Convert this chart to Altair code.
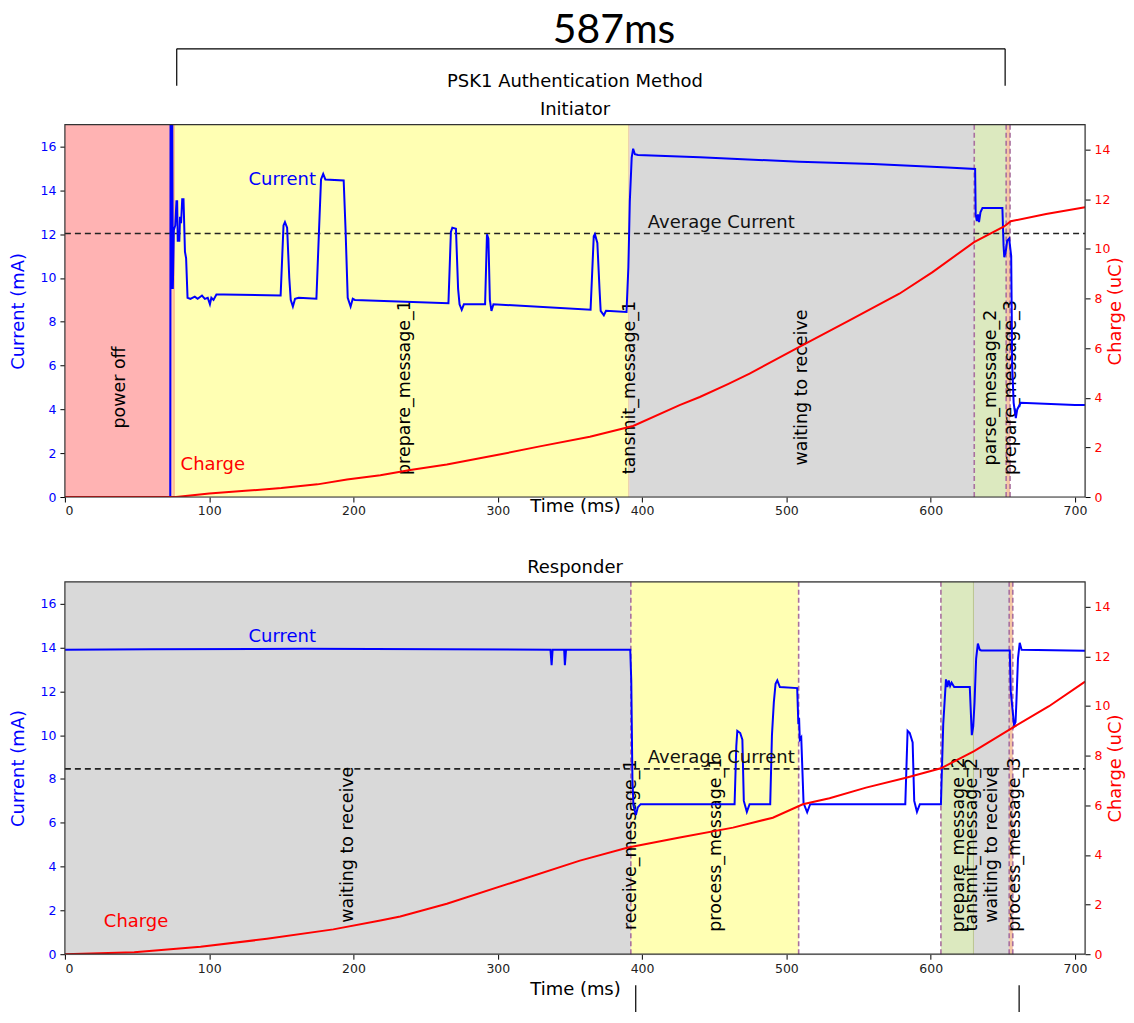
import altair as alt
import pandas as pd

# ---------------- data ----------------
XMAX = 707

# Initiator current (ms, mA)
init_t = [0, 73.0, 73.2, 73.5, 73.8, 74.1, 74.4, 74.8, 75.5, 76.5, 77.3, 77.8, 78.2, 79.3, 79.8, 80.5,
          81.3, 82.2, 83.2, 84.0, 85.0, 87, 90, 92, 95, 97, 99, 100.5, 101.5, 103, 105, 110, 149.5,
          151.5, 152.5, 154, 155.5, 156.5, 158, 159.5, 162, 174.3, 176.0, 177.5, 179, 180.5, 193.2,
          194.5, 196.0, 198.0, 199.5, 201, 265.8, 267.5, 268.5, 271.0, 272.5, 273.5, 275, 276.5,
          291.2, 292.5, 293.5, 294.5, 295.6, 297, 364.3, 366.5, 367.3, 369, 370.5, 371.3, 373.5,
          375, 389.2, 390.5, 391.5, 392.8, 393.8, 395, 397.2, 440, 509, 560, 611.7, 630.8, 631.2,
          632, 632.8, 633.5, 634.5, 635.9, 649.7, 650.5, 651.0, 652, 653, 654.4, 655.8, 656.5,
          657.5, 659.0, 660, 662.4, 700, 707]
init_i = [0, 0, 17.5, 9.5, 17.5, 9.5, 17.5, 9.5, 12.2, 12.4, 13.5, 13.5, 11.7, 11.7, 12.8, 12.5,
          13.6, 13.6, 11.2, 10.9, 9.1, 9.05, 9.15, 9.05, 9.2, 9.05, 9.1, 8.8, 9.1, 9.0, 9.25, 9.25, 9.2,
          12.4, 12.55, 12.3, 10.0, 9.0, 8.7, 9.05, 9.1, 9.05, 12.0, 14.5, 14.75, 14.5, 14.45,
          12.2, 9.1, 8.7, 9.05, 9.0, 8.85, 12.1, 12.3, 12.25, 9.5, 8.8, 8.55, 8.8,
          8.8, 12.0, 11.8, 9.0, 8.5, 8.8, 8.55, 11.9, 12.0, 11.6, 9.5, 8.5, 8.3,
          8.5, 8.45, 10.5, 13.5, 15.5, 15.9, 15.65, 15.62, 15.51, 15.31, 15.2, 15.05, 14.98, 12.9,
          12.6, 12.9, 12.55, 13.0, 13.2, 13.2, 11.5, 10.95, 11.2, 11.7, 11.8, 11.0, 6.0,
          4.3, 3.6, 4.0, 4.3, 4.2, 4.2]

# Initiator charge (ms, uC)
init_q_t = [0, 77, 100, 125, 150, 175, 195.5, 218.6, 239.3, 264.7, 299.3, 330, 363.8, 393.8, 426,
            440, 459.5, 474.5, 509, 543.7, 578.3, 601.3, 630.1, 650.9, 655.5, 680, 707]
init_q = [0, 0, 0.14, 0.25, 0.36, 0.51, 0.71, 0.88, 1.09, 1.31, 1.69, 2.05, 2.43, 2.86, 3.7,
          4.03, 4.55, 4.97, 6.05, 7.12, 8.19, 9.06, 10.27, 10.9, 11.11, 11.4, 11.67]

# Responder current (ms, mA)
resp_t = [0, 60, 166, 336.5, 337.3, 338, 346, 346.5, 347.3, 391.8, 392.5, 393.3, 394, 395.7, 397,
          399, 464.1, 465.3, 466, 468, 469.5, 470.5, 472.6, 474.5, 488.8, 490, 491.3, 492.5, 493.7,
          495.5, 507.5, 508.3, 508.8, 509.3, 510.3, 511.9, 514.4, 516.5, 582.4, 584, 585.5, 587.5,
          588.6, 590.5, 592.5, 607.1, 608.7, 610.6, 611.6, 612.5, 613.5, 614.5, 616.3, 627.1,
          628.5, 629.5, 630.4, 631.5, 632.7, 634, 635, 654.8, 655.5, 657.8, 658.8, 659.4, 660.5,
          661.7, 663, 707]
resp_i = [13.9, 13.92, 13.95, 13.9, 13.2, 13.9, 13.9, 13.2, 13.9, 13.9, 12.5, 8.0, 6.8, 6.35, 6.7,
          6.85, 6.85, 9.5, 10.2, 10.1, 9.8, 7.0, 6.5, 6.85, 6.85, 10.0, 11.5, 12.35, 12.5,
          12.2, 12.15, 10.5, 10.8, 9.8, 9.9, 6.9, 6.48, 6.85, 6.85, 10.2, 10.1, 9.67,
          7.0, 6.5, 6.85, 6.85, 10.5, 12.55, 12.2, 12.5, 12.25, 12.4, 12.2, 12.2,
          10.0, 10.4, 11.5, 13.5, 14.18, 13.9, 13.87, 13.87, 12.0, 10.45, 10.6, 11.5, 13.5,
          14.22, 13.9, 13.85]

# Responder charge (ms, uC)
resp_q_t = [0, 48, 94, 140, 186, 218.6, 232.4, 264.7, 310.8, 356.9, 390.3, 426.1, 463, 490.6,
            511.4, 529.9, 555.2, 582.9, 607.1, 630.1, 656.6, 682, 707]
resp_q = [0, 0.08, 0.3, 0.62, 1.0, 1.36, 1.52, 2.03, 2.9, 3.77, 4.3, 4.7, 5.1, 5.5,
          6.04, 6.28, 6.71, 7.11, 7.49, 8.18, 9.12, 9.99, 10.98]

# Phases (ms)
init_reg_start = [0, 74.5, 76.5, 390.5, 391.3, 630.2, 652.3]
init_reg_end = [74.5, 76.5, 390.5, 391.3, 630.2, 652.3, 655.0]
init_reg_kind = ["off", "boot", "prepare", "transmit", "wait", "parse", "short"]
init_dash = [630.2, 652.3, 655.0]
init_lab_x = [38.5, 236, 391.5, 510.5, 641.5, 655.5]
init_lab_txt = ["power off", "prepare_message_1", "tansmit_message_1", "waiting to receive",
                "parse_message_2", "prepare_message_3"]

resp_reg_start = [0, 392.2, 607.1, 629.2, 630.0, 654.4]
resp_reg_end = [392.2, 508.5, 629.2, 630.0, 654.4, 656.9]
resp_reg_kind = ["wait", "prepare", "parse", "olive", "wait", "short"]
resp_dash = [392.2, 508.5, 607.1, 654.4, 656.9]
resp_lab_x = [196, 392.6, 451, 619.5, 628.8, 642.4, 658.5]
resp_lab_txt = ["waiting to receive", "receive_message_1", "process_message_1", "prepare_message_2",
                "tansmit_message_2", "waiting to receive", "process_message_3"]

init_avg = 12.03
resp_avg = 8.46

# annotation values
total_label = "587ms"
init_bracket = [77.5, 651.6]
resp_bracket = [395.6, 661.3]

# ---------------- style ----------------
W, H = 1022, 373
FONT = "DejaVu Sans"
kinds = ["off", "boot", "prepare", "transmit", "wait", "parse", "short", "olive"]
kind_colors = ["#ffb3b3", "#ffc58f", "#ffffb3", "#e3b98f", "#d9d9d9", "#dce9bf", "#f5c6a5", "#b9c48d"]

x_scale = alt.Scale(domain=[0, XMAX], nice=False, zero=False)
yI = alt.Scale(domain=[0, 17], nice=False, zero=False)
yQ = alt.Scale(domain=[0, 15], nice=False, zero=False)


def make_x_axis(title_y=None):
    kw = dict(title="Time (ms)", values=list(range(0, 701, 100)), grid=False, domain=False,
              tickSize=5, tickColor="black", labelPadding=3, labelFontSize=12.5, labelFont=FONT,
              labelColor="#222", titleFont=FONT, titleFontSize=18, titleFontWeight="normal",
              titleColor="black", titlePadding=6)
    if title_y is not None:
        kw["titleY"] = title_y
        kw["titleBaseline"] = "middle"
    return alt.Axis(**kw)


left_axis = alt.Axis(orient="left", title="Current (mA)", values=list(range(0, 17, 2)), grid=False,
                     domain=False, tickSize=5, tickColor="black", labelPadding=4, labelFontSize=12.5,
                     labelFont=FONT, labelColor="blue", titleFont=FONT, titleFontSize=18,
                     titleFontWeight="normal", titleColor="blue", titlePadding=13)
right_axis = alt.Axis(orient="right", title="Charge (uC)", values=list(range(0, 15, 2)), grid=False,
                      domain=False, tickSize=5, tickColor="black", labelPadding=4, labelFontSize=12.5,
                      labelFont=FONT, labelColor="red", titleFont=FONT, titleFontSize=18,
                      titleFontWeight="normal", titleColor="red", titlePadding=-3, titleAngle=270,
                      titleBaseline="top")

one = pd.DataFrame({"a": [0]})


def panel(cur_t, cur_i, q_t, q, rs, re_, rk, dash_x, lab_x, lab_txt, avg, avg_lab_x,
          cur_lab_x, chg_lab_x, xaxis, extras):
    X = lambda f: alt.X(f, scale=x_scale, axis=xaxis)
    YI = lambda f: alt.Y(f, scale=yI, axis=left_axis)

    regions = alt.Chart(pd.DataFrame({"s": rs, "e": re_, "k": rk})).mark_rect().encode(
        x=X("s:Q"), x2="e:Q", y=alt.value(0), y2=alt.value(H),
        color=alt.Color("k:N", scale=alt.Scale(domain=kinds, range=kind_colors), legend=None))
    dashes = alt.Chart(pd.DataFrame({"x": dash_x})).mark_rule(
        strokeDash=[5, 3], strokeWidth=1.6, color="#a9709f").encode(
        x=X("x:Q"), y=alt.value(0), y2=alt.value(H))

    avg_rule = alt.Chart(pd.DataFrame({"a": [avg]})).mark_rule(
        strokeDash=[6, 4], strokeWidth=1.6, color="#222").encode(
        y=YI("a:Q"), x=alt.value(0), x2=alt.value(W))
    labels = alt.Chart(pd.DataFrame({"x": lab_x, "y": [5] * len(lab_x), "t": lab_txt})).mark_text(
        angle=270, fontSize=17.5, font=FONT, color="black", align="center", baseline="middle").encode(
        x=X("x:Q"), y=YI("y:Q"), text="t:N")
    current = alt.Chart(pd.DataFrame({"t": cur_t, "i": cur_i})).mark_line(
        color="blue", strokeWidth=2, clip=True).encode(x=X("t:Q"), y=YI("i:Q"))

    def label(x, y, txt, color):
        return alt.Chart(pd.DataFrame({"x": [x], "y": [y], "t": [txt]})).mark_text(
            fontSize=18, font=FONT, align="left", baseline="middle", color=color).encode(
            x=X("x:Q"), y=YI("y:Q"), text="t:N")

    cur_layer = alt.layer(avg_rule, labels, current,
                          label(cur_lab_x, 14.46, "Current", "blue"),
                          label(chg_lab_x, 1.46, "Charge", "red"),
                          label(avg_lab_x, avg + 0.5, "Average Current", "#111"))

    charge = alt.Chart(pd.DataFrame({"t": q_t, "q": q})).mark_line(
        color="red", strokeWidth=2, clip=True).encode(
        x=X("t:Q"), y=alt.Y("q:Q", scale=yQ, axis=right_axis))
    chg_layer = alt.layer(charge)

    frame = alt.Chart(one).mark_rect(filled=False, stroke="#333", strokeWidth=1.2).encode(
        x=alt.value(0), x2=alt.value(W), y=alt.value(0), y2=alt.value(H))

    ex = [e(X) for e in extras]
    return alt.layer(regions, dashes, cur_layer, chg_layer, frame, *ex).resolve_scale(
        y="independent").properties(width=W, height=H)


# top annotations (functions receive the panel's x-encoding builder)
top_extras = [
    lambda X: alt.Chart(pd.DataFrame({"x": [(init_bracket[0] + init_bracket[1]) / 2 + 16],
                                      "t": [total_label]}))
    .mark_text(font="Lato", fontSize=41, align="center", baseline="alphabetic", color="black")
    .encode(x=X("x:Q"), y=alt.value(-82), text="t:N"),
    lambda X: alt.Chart(pd.DataFrame({"a": [init_bracket[0]], "b": [init_bracket[1]]}))
    .mark_rule(color="black", strokeWidth=1.2)
    .encode(x=X("a:Q"), x2="b:Q", y=alt.value(-76)),
    lambda X: alt.Chart(pd.DataFrame({"a": init_bracket}))
    .mark_rule(color="black", strokeWidth=1.2)
    .encode(x=X("a:Q"), y=alt.value(-76), y2=alt.value(-39)),
    lambda X: alt.Chart(one).mark_text(text="PSK1 Authentication Method", font=FONT, fontSize=18,
                                       align="center", baseline="middle", color="black")
    .encode(x=alt.value(W / 2), y=alt.value(-43)),
    lambda X: alt.Chart(one).mark_text(text="Initiator", font=FONT, fontSize=18,
                                       align="center", baseline="middle", color="black")
    .encode(x=alt.value(W / 2), y=alt.value(-15)),
]

bot_extras = [
    lambda X: alt.Chart(one).mark_text(text="Responder", font=FONT, fontSize=18,
                                       align="center", baseline="middle", color="black")
    .encode(x=alt.value(W / 2), y=alt.value(-14)),
    lambda X: alt.Chart(pd.DataFrame({"a": resp_bracket}))
    .mark_rule(color="black", strokeWidth=1.2)
    .encode(x=X("a:Q"), y=alt.value(H + 31), y2=alt.value(H + 58)),
]

top = panel(init_t, init_i, init_q_t, init_q, init_reg_start, init_reg_end, init_reg_kind, init_dash,
            init_lab_x, init_lab_txt, init_avg, 404, 127.3, 80.2, make_x_axis(title_y=10), top_extras)
bottom = panel(resp_t, resp_i, resp_q_t, resp_q, resp_reg_start, resp_reg_end, resp_reg_kind, resp_dash,
               resp_lab_x, resp_lab_txt, resp_avg, 404, 127.3, 27, make_x_axis(), bot_extras)

chart = alt.vconcat(top, bottom, spacing=40).properties(
    padding={"left": 0, "top": 0, "right": 0, "bottom": 0}
).configure_view(stroke="#444", strokeWidth=1.2).configure(font=FONT, background="white")

chart.save("out.html", embed_options={"renderer": "svg", "actions": False})
